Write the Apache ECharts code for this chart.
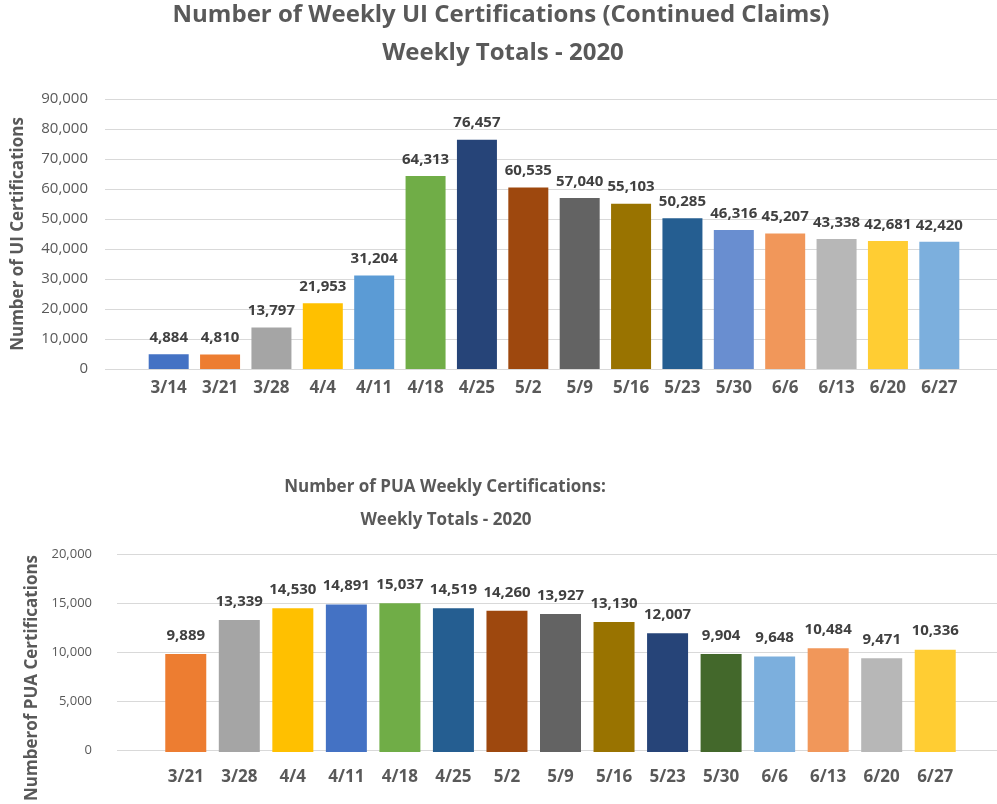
<!DOCTYPE html>
<html>
<head>
<meta charset="utf-8">
<script src="https://cdn.jsdelivr.net/npm/echarts@6/dist/echarts.min.js"></script>
<style>
  html, body { margin: 0; padding: 0; background: #fff; }
  #main { width: 997px; height: 804px; }
</style>
</head>
<body>
<div id="main"></div>
<script>
// UI continued claims, weekly totals
var uiWeeks = ['3/14', '3/21', '3/28', '4/4', '4/11', '4/18', '4/25', '5/2', '5/9', '5/16', '5/23', '5/30', '6/6', '6/13', '6/20', '6/27'];
var uiValues = [4884, 4810, 13797, 21953, 31204, 64313, 76457, 60535, 57040, 55103, 50285, 46316, 45207, 43338, 42681, 42420];

// PUA weekly certifications
var puaWeeks = ['3/21', '3/28', '4/4', '4/11', '4/18', '4/25', '5/2', '5/9', '5/16', '5/23', '5/30', '6/6', '6/13', '6/20', '6/27'];
var puaValues = [9889, 13339, 14530, 14891, 15037, 14519, 14260, 13927, 13130, 12007, 9904, 9648, 10484, 9471, 10336];

// bar colours (office palette, in order)
var uiColors = ['#4472C4', '#ED7D31', '#A5A5A5', '#FFC000', '#5B9BD5', '#70AD47', '#264478', '#9E480E',
                '#636363', '#997300', '#255E91', '#698ED0', '#F1975A', '#B7B7B7', '#FFCD33', '#7CAFDD'];
var puaColors = ['#ED7D31', '#A5A5A5', '#FFC000', '#4472C4', '#70AD47', '#255E91', '#9E480E', '#636363',
                 '#997300', '#264478', '#43682B', '#7CAFDD', '#F1975A', '#B7B7B7', '#FFCD33'];

var FONT = 'Open Sans';
var GREY = '#595959';

function fmt(v) { return v.toLocaleString('en-US'); }

function colored(values, colors) {
    return values.map(function (v, i) {
        return { value: v, itemStyle: { color: colors[i] } };
    });
}

var chart = echarts.init(document.getElementById('main'));

var option = {
    backgroundColor: '#fff',
    animation: false,
    textStyle: { fontFamily: FONT },
    title: [
        { text: 'Number of Weekly UI Certifications (Continued Claims)', left: 501, top: 3, textAlign: 'center', padding: 0,
          textStyle: { fontFamily: FONT, fontSize: 24, fontWeight: 'bold', color: GREY } },
        { text: 'Weekly Totals - 2020', left: 503, top: 41, textAlign: 'center', padding: 0,
          textStyle: { fontFamily: FONT, fontSize: 24, fontWeight: 'bold', color: GREY } },
        { text: 'Number of PUA Weekly Certifications:', left: 445, top: 479, textAlign: 'center', padding: 0,
          textStyle: { fontFamily: FONT, fontSize: 17, fontWeight: 'bold', color: GREY } },
        { text: 'Weekly Totals - 2020', left: 446, top: 512, textAlign: 'center', padding: 0,
          textStyle: { fontFamily: FONT, fontSize: 17, fontWeight: 'bold', color: GREY } }
    ],
    grid: [
        // background (gridlines + y labels) and bars, top chart
        { left: 105, right: 0, top: 99, height: 270 },
        { left: 143, right: 32, top: 99, height: 270 },
        // bottom chart
        { left: 117, right: 0, top: 554, height: 198 },
        { left: 159, right: 35, top: 554, height: 198 }
    ],
    xAxis: [
        { gridIndex: 0, type: 'value', show: false },
        { gridIndex: 1, type: 'category', data: uiWeeks,
          axisLine: { show: false }, axisTick: { show: false },
          axisLabel: { margin: 11, fontFamily: FONT, fontSize: 17, fontWeight: 'bold', color: GREY, interval: 0 } },
        { gridIndex: 2, type: 'value', show: false },
        { gridIndex: 3, type: 'category', data: puaWeeks,
          axisLine: { show: false }, axisTick: { show: false },
          axisLabel: { margin: 17, fontFamily: FONT, fontSize: 17, fontWeight: 'bold', color: GREY, interval: 0 } }
    ],
    yAxis: [
        { gridIndex: 0, type: 'value', min: 0, max: 90000, interval: 10000,
          name: 'Number of UI Certifications', nameLocation: 'middle', nameGap: 78,
          nameTextStyle: { fontFamily: FONT, fontSize: 17, fontWeight: 'bold', color: GREY },
          axisLine: { show: false }, axisTick: { show: false },
          axisLabel: { margin: 17, fontFamily: FONT, fontSize: 15, color: GREY, formatter: fmt },
          splitLine: { lineStyle: { color: '#D9D9D9', width: 1 } } },
        { gridIndex: 1, type: 'value', min: 0, max: 90000, interval: 10000, show: false, splitLine: { show: false } },
        { gridIndex: 2, type: 'value', min: 0, max: 20000, interval: 5000,
          name: 'Numberof PUA Certifications', nameLocation: 'middle', nameGap: 71,
          nameTextStyle: { fontFamily: FONT, fontSize: 17, fontWeight: 'bold', color: GREY, padding: [0, 52, 0, 0] },
          axisLine: { show: false }, axisTick: { show: false },
          axisLabel: { margin: 25, fontFamily: FONT, fontSize: 13, color: GREY, formatter: fmt },
          splitLine: { lineStyle: { color: '#D9D9D9', width: 1 } } },
        { gridIndex: 3, type: 'value', min: 0, max: 20000, interval: 5000, show: false, splitLine: { show: false } }
    ],
    series: [
        {
            type: 'bar', xAxisIndex: 1, yAxisIndex: 1,
            data: colored(uiValues, uiColors),
            barWidth: 40,
            label: { show: true, position: 'top', distance: 9, fontFamily: FONT, fontSize: 15, fontWeight: 'bold',
                     color: '#404040', formatter: function (p) { return fmt(p.value); } }
        },
        {
            type: 'bar', xAxisIndex: 3, yAxisIndex: 3,
            data: colored(puaValues, puaColors),
            barWidth: 41,
            label: { show: true, position: 'top', distance: 11, fontFamily: FONT, fontSize: 15, fontWeight: 'bold',
                     color: '#404040', formatter: function (p) { return fmt(p.value); } }
        }
    ]
};

chart.setOption(option);
</script>
</body>
</html>
